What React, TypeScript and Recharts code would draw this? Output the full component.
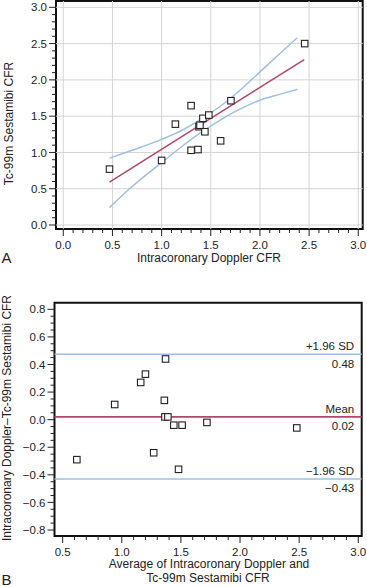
import {
  ComposedChart,
  XAxis,
  YAxis,
  Scatter,
  Line,
  ReferenceLine,
  ReferenceArea,
} from "recharts";

const FONT = "'Liberation Sans', Arial, Helvetica, sans-serif";
const INK = "#222";
const BLUE = "#9fbfe2";
const RED = "#b3466b";
const GRID = "#d4d4d4";

// Panel A: Doppler CFR vs Sestamibi CFR with fit and confidence band
const dopplerCfr = [0.47, 1.0, 1.14, 1.3, 1.3, 1.37, 1.38, 1.39, 1.42, 1.44, 1.48, 1.6, 1.705, 2.455];
const sestamibiCfr = [0.77, 0.89, 1.39, 1.645, 1.03, 1.04, 1.355, 1.375, 1.47, 1.285, 1.515, 1.16, 1.713, 2.5];

const fitX = [0.47, 2.45];
const fitY = [0.59, 2.28];

const bandX = [0.47, 0.7, 1.0, 1.2, 1.4, 1.6, 1.8, 2.0, 2.2, 2.38];
const upperBand = [0.92, 1.03, 1.18, 1.3, 1.46, 1.64, 1.86, 2.11, 2.36, 2.58];
const lowerBand = [0.24, 0.53, 0.86, 1.075, 1.275, 1.45, 1.6, 1.72, 1.8, 1.87];

const aMajorTicks = [0, 0.5, 1.0, 1.5, 2.0, 2.5, 3.0];
const aXDomain = [-0.074, 3.045];
const aYDomain = [-0.055, 3.087];

// Panel B: Bland-Altman
const meanCfr = [0.62, 0.94, 1.16, 1.2, 1.27, 1.36, 1.37, 1.365, 1.39, 1.44, 1.48, 1.51, 1.72, 2.48];
const diffCfr = [-0.29, 0.11, 0.27, 0.33, -0.24, 0.14, 0.44, 0.02, 0.02, -0.04, -0.36, -0.04, -0.02, -0.06];

const upperLoa = 0.475;
const meanDiff = 0.02;
const lowerLoa = -0.43;

const bXMajor = [0.5, 1.0, 1.5, 2.0, 2.5, 3.0];
const bYMajor = [-0.8, -0.6, -0.4, -0.2, 0, 0.2, 0.4, 0.6, 0.8];
const bXDomain = [0.431, 3.029];
const bYDomain = [-0.8435, 0.848];

function steps(from: number, to: number, step: number) {
  const out: number[] = [];
  const n = Math.round((to - from) / step);
  for (let i = 0; i <= n; i++) out.push(Math.round((from + i * step) * 1000) / 1000);
  return out;
}

const aMinorTicks = steps(0, 3, 0.1);
const bXTicks = steps(0.5, 3, 0.1);
const bYTicks = steps(-0.8, 0.8, 0.05);

const toPoints = (xs: number[], ys: number[]) => xs.map((x, i) => ({ x, y: ys[i] }));

const aPoints = toPoints(dopplerCfr, sestamibiCfr);
const fitLine = toPoints(fitX, fitY);
const upperLine = toPoints(bandX, upperBand);
const lowerLine = toPoints(bandX, lowerBand);
const bPoints = toPoints(meanCfr, diffCfr);

const fmt = (v: number) => v.toFixed(1).replace("-", "\u2212");
const isMajor = (v: number, majors: number[]) => majors.some((m) => Math.abs(m - v) < 1e-6);

function BottomTick(props: any) {
  const { x, y, payload, majors } = props;
  const major = isMajor(payload.value, majors);
  return (
    <g>
      <line x1={x} x2={x} y1={y} y2={y + (major ? 7 : 4)} stroke={INK} strokeWidth={1} />
      {major && (
        <text x={x} y={y + 19.5} textAnchor="middle" fontSize={11.5} fontFamily={FONT} fill={INK}>
          {fmt(payload.value)}
        </text>
      )}
    </g>
  );
}

function LeftTick(props: any) {
  const { x, y, payload, majors } = props;
  const major = isMajor(payload.value, majors);
  return (
    <g>
      <line x1={x - (major ? 7 : 4)} x2={x} y1={y} y2={y} stroke={INK} strokeWidth={1} />
      {major && (
        <text x={x - 9} y={y} dy="0.36em" textAnchor="end" fontSize={11.5} fontFamily={FONT} fill={INK}>
          {fmt(payload.value)}
        </text>
      )}
    </g>
  );
}

const Square = (props: any) => (
  <rect
    x={props.cx - 3.25}
    y={props.cy - 3.25}
    width={6.5}
    height={6.5}
    fill="#fff"
    stroke={INK}
    strokeWidth={1.1}
  />
);

const lineLabel = (above: string, below: string) => (props: any) => {
  const vb = props.viewBox;
  const right = vb.x + vb.width - 7.5;
  return (
    <g fontFamily={FONT} fontSize={11.5} fill={INK}>
      <text x={right} y={vb.y - 4} textAnchor="end">
        {above}
      </text>
      <text x={right} y={vb.y + 13.5} textAnchor="end">
        {below}
      </text>
    </g>
  );
};

function PanelA() {
  return (
    <ComposedChart width={367} height={280} margin={{ top: 1, right: 4.3, bottom: 0, left: 0 }}>
      <XAxis
        type="number"
        dataKey="x"
        domain={aXDomain}
        ticks={aMinorTicks}
        interval={0}
        allowDataOverflow
        axisLine={false}
        tickLine={false}
        tickSize={0}
        tickMargin={0}
        height={51}
        tick={<BottomTick majors={aMajorTicks} />}
      />
      <YAxis
        type="number"
        dataKey="y"
        domain={aYDomain}
        ticks={aMinorTicks}
        interval={0}
        allowDataOverflow
        axisLine={false}
        tickLine={false}
        tickSize={0}
        tickMargin={0}
        width={56}
        tick={<LeftTick majors={aMajorTicks} />}
      />
      {aMajorTicks.map((v) => (
        <ReferenceLine key={"gx" + v} x={v} stroke={GRID} strokeWidth={1} />
      ))}
      {aMajorTicks.map((v) => (
        <ReferenceLine key={"gy" + v} y={v} stroke={GRID} strokeWidth={1} />
      ))}
      <Line data={upperLine} dataKey="y" type="monotone" stroke={BLUE} strokeWidth={1.5} dot={false} activeDot={false} isAnimationActive={false} />
      <Line data={lowerLine} dataKey="y" type="monotone" stroke={BLUE} strokeWidth={1.5} dot={false} activeDot={false} isAnimationActive={false} />
      <Line data={fitLine} dataKey="y" type="linear" stroke={RED} strokeWidth={1.6} dot={false} activeDot={false} isAnimationActive={false} />
      <Scatter data={aPoints} dataKey="y" shape={Square} isAnimationActive={false} />
      <ReferenceArea
        x1={aXDomain[0]}
        x2={aXDomain[1]}
        y1={aYDomain[0]}
        y2={aYDomain[1]}
        fill="none"
        fillOpacity={0}
        stroke="#111"
        strokeWidth={2}
        ifOverflow="visible"
      />
    </ComposedChart>
  );
}

function PanelB() {
  return (
    <ComposedChart width={367} height={307} margin={{ top: 22.7, right: 5.3, bottom: 0, left: 0 }}>
      <XAxis
        type="number"
        dataKey="x"
        domain={bXDomain}
        ticks={bXTicks}
        interval={0}
        allowDataOverflow
        axisLine={false}
        tickLine={false}
        tickSize={0}
        tickMargin={0}
        height={51}
        tick={<BottomTick majors={bXMajor} />}
      />
      <YAxis
        type="number"
        dataKey="y"
        domain={bYDomain}
        ticks={bYTicks}
        interval={0}
        allowDataOverflow
        axisLine={false}
        tickLine={false}
        tickSize={0}
        tickMargin={0}
        width={54.5}
        tick={<LeftTick majors={bYMajor} />}
      />
      <ReferenceLine y={upperLoa} stroke={BLUE} strokeWidth={1.5} label={lineLabel("+1.96 SD", "0.48")} />
      <ReferenceLine y={meanDiff} stroke={RED} strokeWidth={1.6} label={lineLabel("Mean", "0.02")} />
      <ReferenceLine y={lowerLoa} stroke={BLUE} strokeWidth={1.5} label={lineLabel("\u22121.96 SD", "\u22120.43")} />
      <Scatter data={bPoints} dataKey="y" shape={Square} isAnimationActive={false} />
      <ReferenceArea
        x1={bXDomain[0]}
        x2={bXDomain[1]}
        y1={bYDomain[0]}
        y2={bYDomain[1]}
        fill="none"
        fillOpacity={0}
        stroke="#111"
        strokeWidth={2}
        ifOverflow="visible"
      />
    </ComposedChart>
  );
}

export default function App() {
  return (
    <div style={{ position: "absolute", left: 0, top: 0, width: 367, height: 587, background: "#fff" }}>
      <div style={{ position: "absolute", left: 0, top: 0 }}>
        <PanelA />
      </div>
      <div style={{ position: "absolute", left: 0, top: 280 }}>
        <PanelB />
      </div>
      <svg
        width={367}
        height={587}
        style={{ position: "absolute", left: 0, top: 0, pointerEvents: "none" }}
        fontFamily={FONT}
        fill={INK}
      >
        <text x={209} y={262} fontSize={12} textAnchor="middle">
          Intracoronary Doppler CFR
        </text>
        <text x={1.5} y={263} fontSize={15}>
          A
        </text>
        <text x={8.5} y={123.5} fontSize={12} textAnchor="middle" dominantBaseline="central" transform="rotate(-90 8.5 123.5)">
          Tc-99m Sestamibi CFR
        </text>
        <text x={209} y={568} fontSize={12} textAnchor="middle">
          Average of Intracoronary Doppler and
        </text>
        <text x={208} y={582} fontSize={12} textAnchor="middle">
          Tc-99m Sestamibi CFR
        </text>
        <text x={1.5} y={585} fontSize={15}>
          B
        </text>
        <text x={6.5} y={418} fontSize={12} textAnchor="middle" dominantBaseline="central" transform="rotate(-90 6.5 418)">
          Intracoronary Doppler–Tc-99m Sestamibi CFR
        </text>
      </svg>
    </div>
  );
}
